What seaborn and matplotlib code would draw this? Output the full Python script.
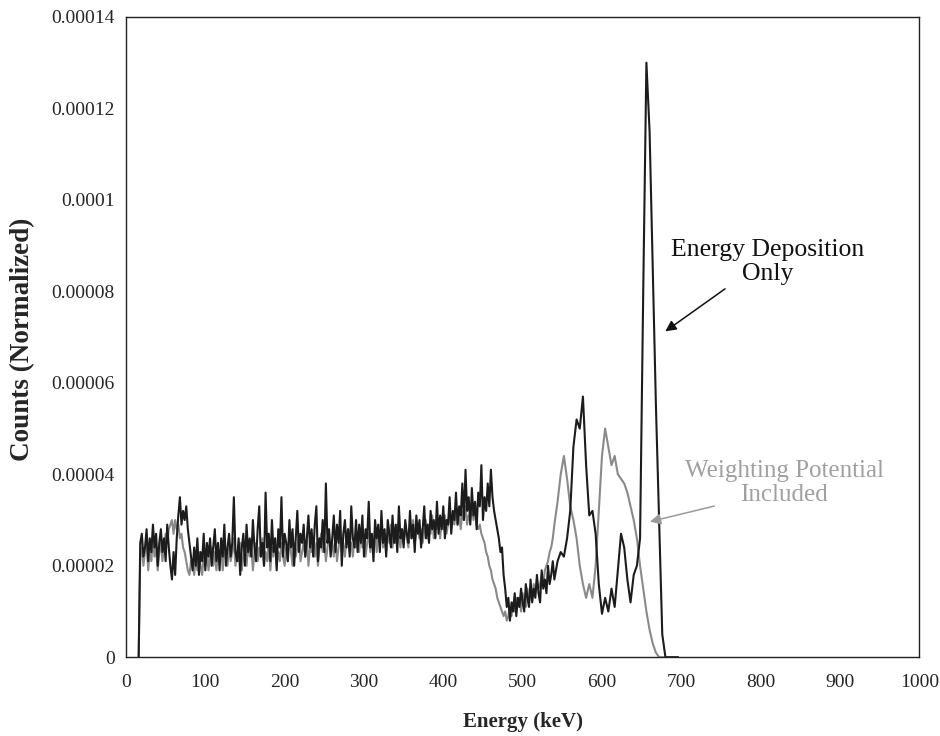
import numpy as np
import pandas as pd
import matplotlib
matplotlib.use("Agg")
import matplotlib.pyplot as plt
import seaborn as sns

# Energy bins (keV): 2 keV spacing up to 538, 4 keV spacing after
energy_kev = np.concatenate([np.arange(16, 540, 2), np.arange(540, 697, 4)])

# Counts (normalized), in units of 1e-5
deposition_only_e5 = [
    0, 2.5, 2.7, 2.2, 2.4, 2.8, 2.1, 2.6, 2.3, 2.9,          # 16-34
    2.4, 2.7, 2.0, 2.5, 2.8, 2.3, 2.6, 2.1, 2.9, 2.4,        # 36-54
    2.0, 1.7, 2.3, 1.8, 2.6, 3.1, 3.5, 2.9, 3.2, 3.0,        # 56-74
    3.3, 2.8, 2.5, 2.2, 1.9, 2.4, 2.0, 2.6, 1.8, 2.3,        # 76-94
    2.1, 2.7, 1.9, 2.5, 2.2, 2.6, 2.0, 2.4, 2.8, 2.1,        # 96-114
    2.5, 1.9, 2.6, 2.2, 2.9, 2.0, 2.4, 2.7, 2.2, 2.5,        # 116-134
    3.5, 2.3, 2.1, 2.6, 1.8, 2.4, 2.7, 2.0, 2.9, 2.3,        # 136-154
    2.6, 2.2, 3.0, 2.4, 2.1, 2.8, 3.3, 2.2, 2.5, 2.0,        # 156-174
    3.6, 2.4, 2.7, 2.1, 3.0, 2.3, 2.6, 1.9, 2.8, 2.4,        # 176-194
    3.5, 2.2, 2.7, 2.5, 2.1, 3.0, 2.4, 2.8, 2.0, 2.6,        # 196-214
    3.2, 2.3, 2.7, 2.5, 2.9, 2.2, 2.6, 3.1, 2.4, 2.8,        # 216-234
    2.2, 2.9, 3.3, 2.1, 2.6, 2.4, 3.0, 2.3, 3.8, 2.5,        # 236-254
    2.8, 2.2, 2.6, 3.1, 2.3, 2.9, 2.5, 3.2, 2.0, 2.7,        # 256-274
    3.0, 2.4, 2.8, 2.2, 3.3, 2.6, 2.4, 3.0, 2.3, 2.9,        # 276-294
    2.5, 3.1, 2.2, 2.8, 2.6, 3.4, 2.4, 2.7, 2.1, 3.0,        # 296-314
    2.6, 2.9, 2.3, 3.2, 2.5, 2.8, 2.2, 3.0, 2.7, 2.4,        # 316-334
    3.1, 2.5, 2.9, 2.3, 3.3, 2.6, 2.8, 2.4, 3.0, 2.7,        # 336-354
    2.5, 3.2, 2.6, 2.9, 2.3, 3.1, 2.7, 3.0, 2.4, 2.8,        # 356-374
    3.3, 2.6, 2.9, 2.5, 3.2, 2.8, 3.0, 2.6, 3.4, 2.7,        # 376-394
    3.1, 2.8, 3.3, 2.6, 3.0, 2.9, 3.5, 2.7, 3.2, 3.0,        # 396-414
    3.6, 2.9, 3.3, 3.1, 3.8, 3.0, 4.1, 3.2, 3.5, 2.9,        # 416-434
    3.7, 3.1, 3.4, 2.8, 3.6, 3.3, 4.2, 3.0, 3.5, 3.2,        # 436-454
    3.8, 3.3, 4.1, 3.5, 3.2, 3.0, 2.8, 2.6, 2.3, 2.4,        # 456-474
    1.8, 1.5, 1.1, 1.3, 0.8, 1.2, 1.0, 1.4, 0.9, 1.3,        # 476-494
    1.1, 1.5, 1.2, 1.0, 1.6, 1.3, 1.1, 1.7, 1.2, 1.5,        # 496-514
    1.3, 1.8, 1.4, 1.2, 1.9, 1.5, 1.7, 1.4, 2.0, 1.6,        # 516-534
    1.8, 2.1,                                                # 536-538
    1.7, 2.1, 2.3, 2.2, 2.6, 3.2, 4.6, 5.2, 5.0, 5.7,        # 540-576
    4.2, 3.1, 3.2, 2.7, 1.6, 0.95, 1.3, 1.0, 1.5, 1.1,       # 580-616
    1.9, 2.7, 2.4, 1.7, 1.2, 1.8, 2.0, 2.6, 8.0, 13.0,       # 620-656
    11.5, 8.5, 5.5, 3.0, 0.5, 0, 0, 0, 0, 0,                 # 660-696
]

weighting_included_e5 = [
    0, 2.2, 2.4, 2.0, 2.3, 2.5, 1.9, 2.3, 2.1, 2.6,          # 16-34
    2.2, 2.4, 1.9, 2.3, 2.5, 2.1, 2.4, 2.7, 2.5, 2.8,        # 36-54
    2.9, 3.0, 2.7, 3.0, 2.8, 2.9, 2.6, 2.7, 2.4, 2.3,        # 56-74
    2.1, 1.9, 1.8, 2.1, 2.0, 1.8, 2.2, 1.9, 2.3, 2.0,        # 76-94
    1.8, 2.2, 2.0, 2.3, 1.9, 2.2, 2.4, 2.0, 2.3, 1.9,        # 96-114
    2.3, 2.1, 2.4, 1.9, 2.5, 2.2, 2.0, 2.4, 2.1, 2.3,        # 116-134
    2.6, 2.0, 2.3, 2.1, 2.5, 1.9, 2.2, 2.4, 2.0, 2.5,        # 136-154
    2.2, 2.4, 1.9, 2.3, 2.5, 2.1, 2.4, 2.2, 2.6, 2.0,        # 156-174
    2.3, 2.1, 2.5, 1.9, 2.4, 2.2, 2.6, 2.0, 2.3, 2.1,        # 176-194
    2.5, 2.2, 2.0, 2.4, 2.1, 2.6, 2.3, 2.0, 2.5, 2.2,        # 196-214
    2.4, 2.7, 2.1, 2.3, 2.5, 2.2, 2.6, 2.0, 2.4, 2.3,        # 216-234
    2.6, 2.2, 2.5, 2.0, 2.4, 2.7, 2.3, 2.5, 2.1, 2.4,        # 236-254
    2.7, 2.3, 2.5, 2.2, 2.6, 2.1, 2.4, 2.7, 2.3, 2.5,        # 256-274
    2.2, 2.6, 2.8, 2.3, 2.5, 2.2, 2.6, 2.4, 2.7, 2.3,        # 276-294
    2.8, 2.4, 2.6, 2.2, 2.5, 2.7, 2.3, 2.6, 2.4, 2.8,        # 296-314
    2.3, 2.7, 2.5, 2.8, 2.4, 2.6, 2.3, 2.7, 2.5, 2.9,        # 316-334
    2.4, 2.7, 2.5, 2.9, 2.6, 2.4, 2.8, 2.5, 2.9, 2.6,        # 336-354
    2.4, 2.8, 2.6, 3.0, 2.5, 2.7, 2.9, 2.6, 2.8, 2.5,        # 356-374
    2.8, 3.0, 2.6, 2.9, 2.7, 3.1, 2.6, 2.9, 2.8, 3.0,        # 376-394
    2.6, 3.0, 2.8, 3.1, 2.7, 2.9, 3.2, 2.8, 3.0, 2.9,        # 396-414
    3.2, 2.9, 3.1, 2.8, 3.2, 3.0, 3.3, 2.9, 3.1, 3.0,        # 416-434
    3.3, 3.0, 3.2, 2.9, 2.8, 2.9, 2.7, 2.6, 2.5, 2.3,        # 436-454
    2.2, 2.0, 1.9, 1.7, 1.6, 1.5, 1.3, 1.2, 1.1, 1.0,        # 456-474
    0.9, 1.0, 0.8, 0.9, 1.1, 0.9, 1.2, 1.0, 1.3, 1.1,        # 476-494
    1.3, 1.0, 1.4, 1.2, 1.1, 1.5, 1.2, 1.4, 1.3, 1.6,        # 496-514
    1.4, 1.7, 1.5, 1.6, 1.8, 1.6, 1.9, 2.0, 2.1, 2.3,        # 516-534
    2.4, 2.6,                                                # 536-538
    2.9, 3.4, 4.0, 4.4, 3.9, 3.3, 3.0, 2.6, 2.0, 1.6,        # 540-576
    1.3, 1.6, 1.3, 2.0, 3.2, 4.4, 5.0, 4.6, 4.2, 4.4,        # 580-616
    4.0, 3.9, 3.8, 3.6, 3.3, 3.0, 2.6, 2.0, 1.5, 1.0,        # 620-656
    0.6, 0.3, 0.1, 0, 0, 0, 0, 0, 0, 0,                      # 660-696
]

x_ticks = [0, 100, 200, 300, 400, 500, 600, 700, 800, 900, 1000]
y_ticks = [0, 0.00002, 0.00004, 0.00006, 0.00008, 0.0001, 0.00012, 0.00014]
y_tick_labels = ["0", "0.00002", "0.00004", "0.00006", "0.00008", "0.0001", "0.00012", "0.00014"]

label_dep = "Energy Deposition\nOnly"
label_wp = "Weighting Potential\nIncluded"

df = pd.DataFrame({
    "energy": energy_kev,
    "dep": np.array(deposition_only_e5) * 1e-5,
    "wp": np.array(weighting_included_e5) * 1e-5,
})

sns.set_theme(style="white")
plt.rcParams["font.family"] = ["Liberation Serif", "DejaVu Serif"]

dark = "#1c1c1c"
gray = "#8a8a8a"

fig = plt.figure(figsize=(9.4, 7.36), dpi=100)
ax = fig.add_axes([0.134, 0.107, 0.844, 0.870])

sns.lineplot(data=df, x="energy", y="wp", ax=ax, color=gray, linewidth=1.5, estimator=None)
sns.lineplot(data=df, x="energy", y="dep", ax=ax, color=dark, linewidth=1.5, estimator=None)

ax.set_xlim(0, 1000)
ax.set_ylim(0, 0.00014)
ax.set_xticks(x_ticks)
ax.set_xticklabels([str(v) for v in x_ticks], fontsize=14)
ax.set_yticks(y_ticks)
ax.set_yticklabels(y_tick_labels, fontsize=14)
ax.tick_params(axis="y", direction="out", length=3, width=0.8, color="#333333", pad=5)
ax.tick_params(axis="x", direction="in", length=4, width=0.8, color="#333333", pad=12)
for s in ax.spines.values():
    s.set_visible(True)
    s.set_color("#222222")
    s.set_linewidth(1.0)

ax.set_xlabel("Energy (keV)", fontsize=15, fontweight="bold")
ax.xaxis.set_label_coords(0.5, -0.085)
ax.set_ylabel("")
fig.text(23 / 940, 1 - 339 / 736, "Counts (Normalized)", rotation=90, ha="center",
         va="center", fontsize=19.5, fontweight="bold")

ax.text(809, 0.0000864, label_dep, ha="center", va="center", fontsize=18.5,
        color="#111111", linespacing=1.15)
ax.annotate("", xy=(677, 0.0000709), xytext=(758, 0.0000809),
            arrowprops=dict(arrowstyle="-|>", color="#111111", lw=1.1, mutation_scale=16))

ax.text(830, 0.0000381, label_wp, ha="center", va="center", fontsize=18,
        color="#a0a0a0", linespacing=1.15)
ax.annotate("", xy=(657, 0.0000295), xytext=(745, 0.0000332),
            arrowprops=dict(arrowstyle="-|>", color="#9a9a9a", lw=1.1, mutation_scale=16))

fig.savefig("out.png", dpi=100, facecolor="white")
